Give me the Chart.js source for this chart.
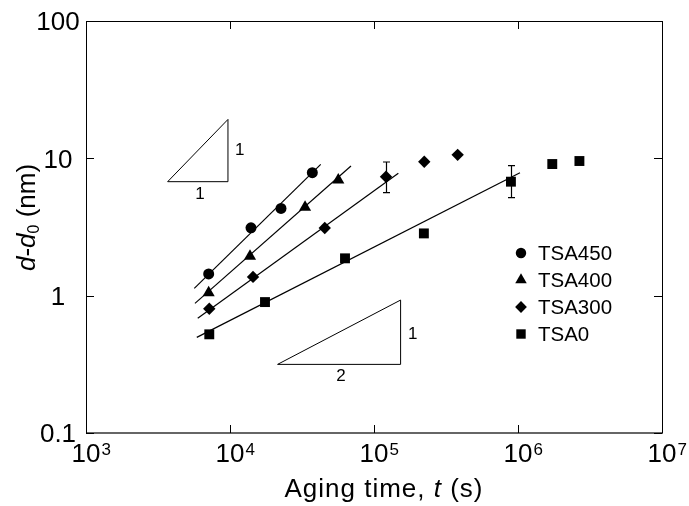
<!DOCTYPE html>
<html><head><meta charset="utf-8">
<script src="https://cdn.jsdelivr.net/npm/chart.js@4/dist/chart.umd.min.js"></script>
<style>html,body{margin:0;padding:0;background:#fff}#wrap{width:689px;height:506px;position:relative}</style>
</head><body><div id="wrap"><canvas id="c"></canvas></div>
<script>
const FONT = '"Liberation Sans", Arial, Helvetica, sans-serif';

const seriesNames = ['TSA450', 'TSA400', 'TSA300', 'TSA0'];
const seriesStyles = ['circle', 'triangle', 'rectRot', 'rect'];
const seriesRadius = [5.5, 7, 6.2, 7];

const tsa450Time = [7110, 13990, 22600, 37300];
const tsa450Size = [1.44, 3.12, 4.32, 7.86];
const tsa400Time = [7110, 13770, 33200, 56500];
const tsa400Size = [1.05, 1.94, 4.40, 6.95];
const tsa300Time = [7180, 14450, 45500, 121200, 223400, 381000];
const tsa300Size = [0.803, 1.37, 3.11, 7.35, 9.45, 10.6];
const tsa0Time = [7180, 17500, 62900, 222000, 893000, 1730000, 2670000];
const tsa0Size = [0.523, 0.898, 1.87, 2.84, 6.76, 9.09, 9.56];

const fit450Time = [5650, 42660];   const fit450Size = [1.13, 9.04];
const fit400Time = [5710, 69200];   const fit400Size = [0.879, 8.79];
const fit300Time = [5970, 147600];  const fit300Size = [0.684, 7.78];
const fit0Time = [5880, 1032000];   const fit0Size = [0.497, 7.86];

const errTime = [121200, 893000];
const errLow = [5.62, 5.17];
const errHigh = [9.4, 8.84];

const tri1Time = [3690, 9680, 9680, 3690];
const tri1Size = [6.76, 6.76, 19.2, 6.76];
const tri2Time = [21400, 153000, 153000, 21400];
const tri2Size = [0.316, 0.316, 0.929, 0.316];
const slopeLabels = ['1', '1', '1', '2'];
const slopeLabelTime = [11700, 6190, 186000, 59000];
const slopeLabelSize = [11.4, 5.5, 0.525, 0.26];

const xTickValues = [1e3, 1e4, 1e5, 1e6, 1e7];
const xTickBase = '10';
const xTickExps = ['3', '4', '5', '6', '7'];
const yTickValues = [0.1, 1, 10, 100];
const yTickLabels = ['0.1', '1', '10', '100'];

const pts = (xs, ys) => xs.map((x, i) => ({x: x, y: ys[i]}));

function lineDs(xs, ys, w) {
  return {type: 'line', data: pts(xs, ys), borderColor: '#000', borderWidth: w,
    pointRadius: 0, showLine: true, fill: false, tension: 0, order: 2};
}
function ptDs(i, xs, ys) {
  return {type: 'scatter', label: seriesNames[i], data: pts(xs, ys), pointStyle: seriesStyles[i],
    pointRadius: seriesRadius[i], pointHoverRadius: seriesRadius[i], backgroundColor: '#000',
    borderColor: '#000', borderWidth: 0, showLine: false, order: 1};
}

function drawMarker(ctx, style, x, y, r) {
  ctx.beginPath();
  if (style === 'circle') ctx.arc(x, y, r, 0, Math.PI * 2);
  else if (style === 'triangle') {
    for (let k = 0; k < 3; k++) {
      const a = k * 2 * Math.PI / 3;
      const px = x + Math.sin(a) * r, py = y - Math.cos(a) * r;
      k ? ctx.lineTo(px, py) : ctx.moveTo(px, py);
    }
    ctx.closePath();
  } else if (style === 'rectRot') {
    ctx.moveTo(x, y - r); ctx.lineTo(x + r, y); ctx.lineTo(x, y + r); ctx.lineTo(x - r, y); ctx.closePath();
  } else {
    const s = r * Math.SQRT1_2; ctx.rect(x - s, y - s, 2 * s, 2 * s);
  }
  ctx.fill();
}

const decor = {
  id: 'decor',
  afterDatasetsDraw(chart) {
    const ctx = chart.ctx, xs = chart.scales.x, ys = chart.scales.y, a = chart.chartArea;
    ctx.save();
    ctx.fillStyle = '#000'; ctx.strokeStyle = '#000';
    // error bars
    ctx.lineWidth = 1.2;
    errTime.forEach((t, i) => {
      const px = Math.round(xs.getPixelForValue(t)) + 0.5;
      const y1 = ys.getPixelForValue(errLow[i]), y2 = ys.getPixelForValue(errHigh[i]);
      ctx.beginPath();
      ctx.moveTo(px, y1); ctx.lineTo(px, y2);
      ctx.moveTo(px - 3.5, y1); ctx.lineTo(px + 3.5, y1);
      ctx.moveTo(px - 3.5, y2); ctx.lineTo(px + 3.5, y2);
      ctx.stroke();
    });
    // slope labels
    ctx.font = '17px ' + FONT; ctx.textAlign = 'center'; ctx.textBaseline = 'middle';
    slopeLabels.forEach((s, i) => ctx.fillText(s, xs.getPixelForValue(slopeLabelTime[i]), ys.getPixelForValue(slopeLabelSize[i])));
    // frame
    ctx.lineWidth = 1; ctx.strokeStyle = '#000';
    ctx.strokeRect(a.left + 0.5, a.top + 0.5, a.right - a.left, a.bottom - a.top);
    ctx.strokeStyle = '#666'; ctx.lineWidth = 2;
    ctx.beginPath(); ctx.moveTo(a.left, a.bottom); ctx.lineTo(a.right + 1, a.bottom); ctx.stroke();
    // inside ticks
    ctx.strokeStyle = '#000'; ctx.lineWidth = 1;
    ctx.beginPath();
    xTickValues.forEach(v => {
      const px = Math.round(xs.getPixelForValue(v)) + 0.5;
      ctx.moveTo(px, a.bottom); ctx.lineTo(px, a.bottom - 8);
      ctx.moveTo(px, a.top); ctx.lineTo(px, a.top + 8);
    });
    yTickValues.forEach(v => {
      const py = Math.round(ys.getPixelForValue(v)) + 0.5;
      ctx.moveTo(a.left, py); ctx.lineTo(a.left + 8, py);
      ctx.moveTo(a.right, py); ctx.lineTo(a.right - 8, py);
    });
    ctx.stroke();
    // y tick labels
    ctx.font = '26px ' + FONT; ctx.textAlign = 'center'; ctx.textBaseline = 'alphabetic';
    yTickValues.forEach((v, i) => ctx.fillText(yTickLabels[i], 58, ys.getPixelForValue(v) + 9.3));
    // x tick labels with superscripts
    xTickValues.forEach((v, i) => {
      const px = xs.getPixelForValue(v);
      ctx.font = '26px ' + FONT; ctx.textAlign = 'center';
      ctx.fillText(xTickBase, px, 462);
      const w = ctx.measureText(xTickBase).width;
      ctx.font = '17px ' + FONT; ctx.textAlign = 'left';
      ctx.fillText(xTickExps[i], px + w / 2 + 1, 455);
    });
    // x axis title
    const parts = [['Aging time, ', ''], ['t', 'italic '], [' (s)', '']];
    ctx.textAlign = 'left';
    if ('letterSpacing' in ctx) ctx.letterSpacing = '1px';
    let tot = 0;
    parts.forEach(p => { ctx.font = p[1] + '26px ' + FONT; tot += ctx.measureText(p[0]).width; });
    let cx = 384 - tot / 2;
    parts.forEach(p => { ctx.font = p[1] + '26px ' + FONT; ctx.fillText(p[0], cx, 497); cx += ctx.measureText(p[0]).width; });
    if ('letterSpacing' in ctx) ctx.letterSpacing = '0px';
    // y axis title (rotated)
    ctx.save();
    ctx.translate(35, 217.5);
    ctx.rotate(-Math.PI / 2);
    const yparts = [['d', 'italic 26px ', 0], ['-', '26px ', 0], ['d', 'italic 26px ', 0], ['0', '16px ', 4], [' (nm)', '26px ', 0]];
    let ytot = 0;
    yparts.forEach(p => { ctx.font = p[1] + FONT; ytot += ctx.measureText(p[0]).width; });
    let yx = -ytot / 2;
    yparts.forEach(p => { ctx.font = p[1] + FONT; ctx.fillText(p[0], yx, p[2]); yx += ctx.measureText(p[0]).width; });
    ctx.restore();
    // legend
    ctx.font = '20.5px ' + FONT; ctx.textAlign = 'left'; ctx.textBaseline = 'middle';
    seriesNames.forEach((n, i) => {
      const ly = 253 + i * 27;
      drawMarker(ctx, seriesStyles[i], 521, ly, seriesRadius[i] * 0.95);
      ctx.fillText(n, 538, ly + 1);
    });
    ctx.restore();
  }
};

new Chart(document.getElementById('c'), {
  type: 'scatter',
  data: {
    datasets: [
      lineDs(tri1Time, tri1Size, 1), lineDs(tri2Time, tri2Size, 1),
      lineDs(fit450Time, fit450Size, 1.2), lineDs(fit400Time, fit400Size, 1.2),
      lineDs(fit300Time, fit300Size, 1.2), lineDs(fit0Time, fit0Size, 1.2),
      ptDs(0, tsa450Time, tsa450Size), ptDs(1, tsa400Time, tsa400Size),
      ptDs(2, tsa300Time, tsa300Size), ptDs(3, tsa0Time, tsa0Size)
    ]
  },
  options: {
    responsive: true, maintainAspectRatio: false, animation: false,
    layout: {padding: {left: 0, right: 27, top: 21, bottom: 0}},
    plugins: {legend: {display: false}, tooltip: {enabled: false}},
    scales: {
      x: {type: 'logarithmic', min: 1e3, max: 1e7,
        afterBuildTicks: s => { s.ticks = xTickValues.map(v => ({value: v})); },
        afterFit: s => { s.height = 73; },
        grid: {display: false}, border: {display: false}, ticks: {display: false}},
      y: {type: 'logarithmic', min: 0.1, max: 100,
        afterBuildTicks: s => { s.ticks = yTickValues.map(v => ({value: v})); },
        afterFit: s => { s.width = 86; },
        grid: {display: false}, border: {display: false}, ticks: {display: false}}
    }
  },
  plugins: [decor]
});
</script></body></html>
